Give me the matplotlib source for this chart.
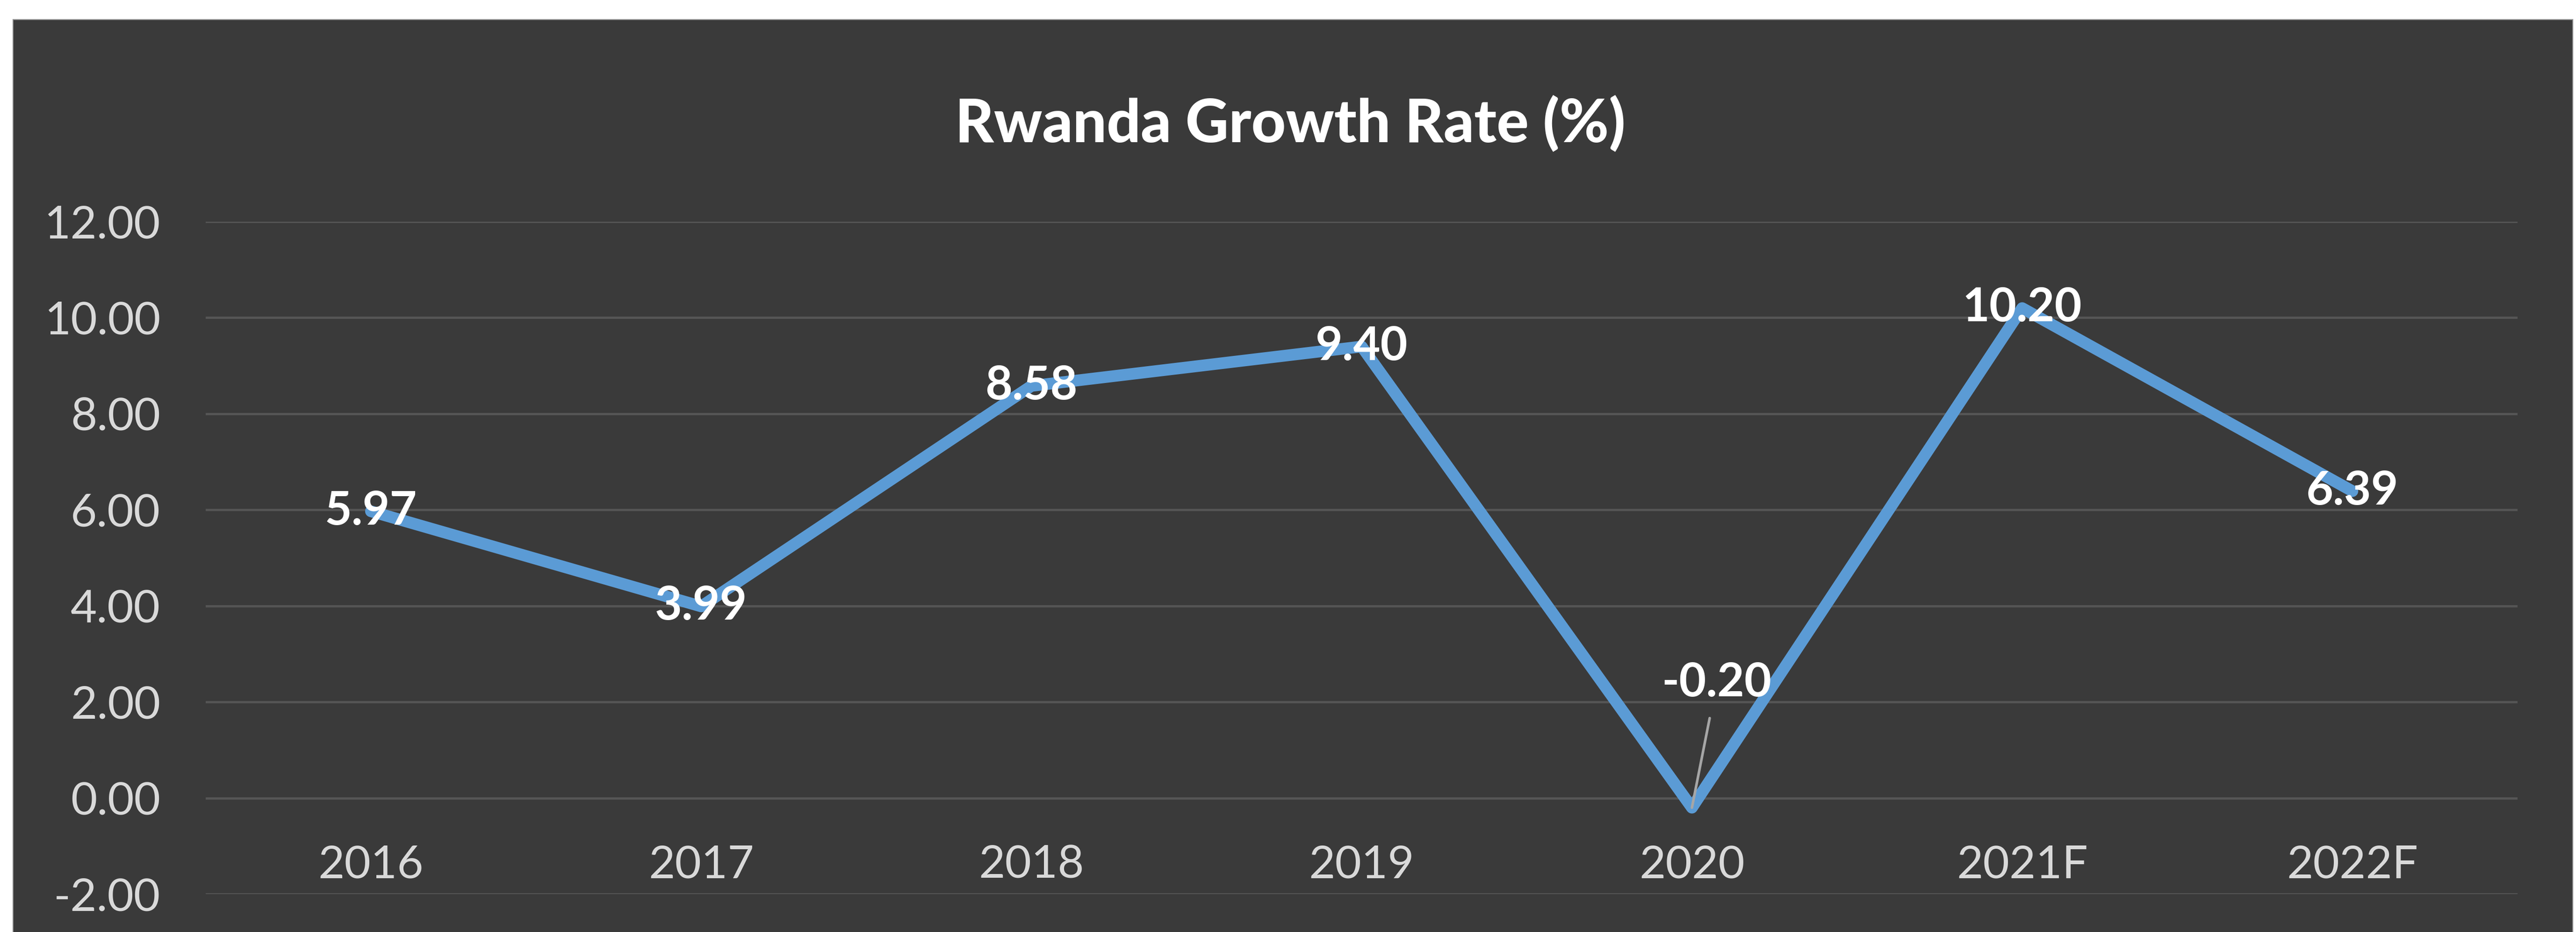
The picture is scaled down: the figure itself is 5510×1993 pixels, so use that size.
import matplotlib
matplotlib.use("Agg")
import matplotlib.pyplot as plt
import matplotlib.ticker as mticker
from matplotlib.patches import Rectangle

# ── Datos ────────────────────────────────────────────────────
years = ["2016", "2017", "2018", "2019", "2020", "2021F", "2022F"]
growth = [5.97, 3.99, 8.58, 9.40, -0.20, 10.20, 6.39]
y_ticks = [-2, 0, 2, 4, 6, 8, 10, 12]
title = "Rwanda Growth Rate (%)"

# ── Estilo ───────────────────────────────────────────────────
BG = "#3a3a3a"
GRID = "#555555"
LINE = "#5b9bd5"
TICK = "#d9d9d9"
plt.rcParams["font.family"] = ["Lato", "DejaVu Sans"]

fig = plt.figure(figsize=(55.1, 19.93), dpi=100)
fig.patch.set_facecolor("white")

# panel oscuro con un pequeño margen blanco arriba y a los lados
fig.patches.append(Rectangle((28 / 5510, -0.01), (5503 - 28) / 5510, 1 - 42 / 1993 + 0.01,
                             transform=fig.transFigure, facecolor=BG,
                             edgecolor="#8a8a8a", linewidth=1.5, zorder=-10))

ax = fig.add_axes([0.0799, 0.0406, 0.8974, 0.7216])
ax.set_facecolor(BG)
ax.patch.set_alpha(0)

x = list(range(len(years)))
ax.plot(x, growth, color=LINE, linewidth=18, solid_joinstyle="round",
        solid_capstyle="round", zorder=3)

ax.set_xlim(-0.5, len(years) - 0.5)
ax.set_ylim(-2, 12)
ax.set_yticks(y_ticks)
ax.yaxis.set_major_formatter(mticker.FuncFormatter(lambda v, _: f"{v:.2f}"))
ax.yaxis.grid(True, color=GRID, linewidth=3.5)
ax.set_axisbelow(True)

ax.set_xticks(x)
ax.set_xticklabels(years)
ax.spines["bottom"].set_position(("data", 0))
for s in ["top", "right", "left", "bottom"]:
    ax.spines[s].set_visible(False)
ax.tick_params(axis="both", length=0, colors=TICK, labelsize=70)
ax.tick_params(axis="x", pad=72)
ax.tick_params(axis="y", pad=70)

# etiquetas de valor
for i, v in enumerate(growth):
    if v < 0:
        ax.annotate(f"{v:.2f}", xy=(i, v), xytext=(i + 0.075, 2.4),
                    ha="center", va="center", fontsize=72, fontweight="bold",
                    color="white", zorder=5,
                    arrowprops=dict(arrowstyle="-", color="#a6a6a6", lw=4,
                                    shrinkA=20, shrinkB=0))
    else:
        ax.text(i, v, f"{v:.2f}", ha="center", va="center", fontsize=72,
                fontweight="bold", color="white", zorder=5)

fig.text(0.5008, 0.8675, title, ha="center", va="center", fontsize=92,
         fontweight="black", color="white")

plt.savefig("out.png", dpi=100, facecolor=fig.get_facecolor())
